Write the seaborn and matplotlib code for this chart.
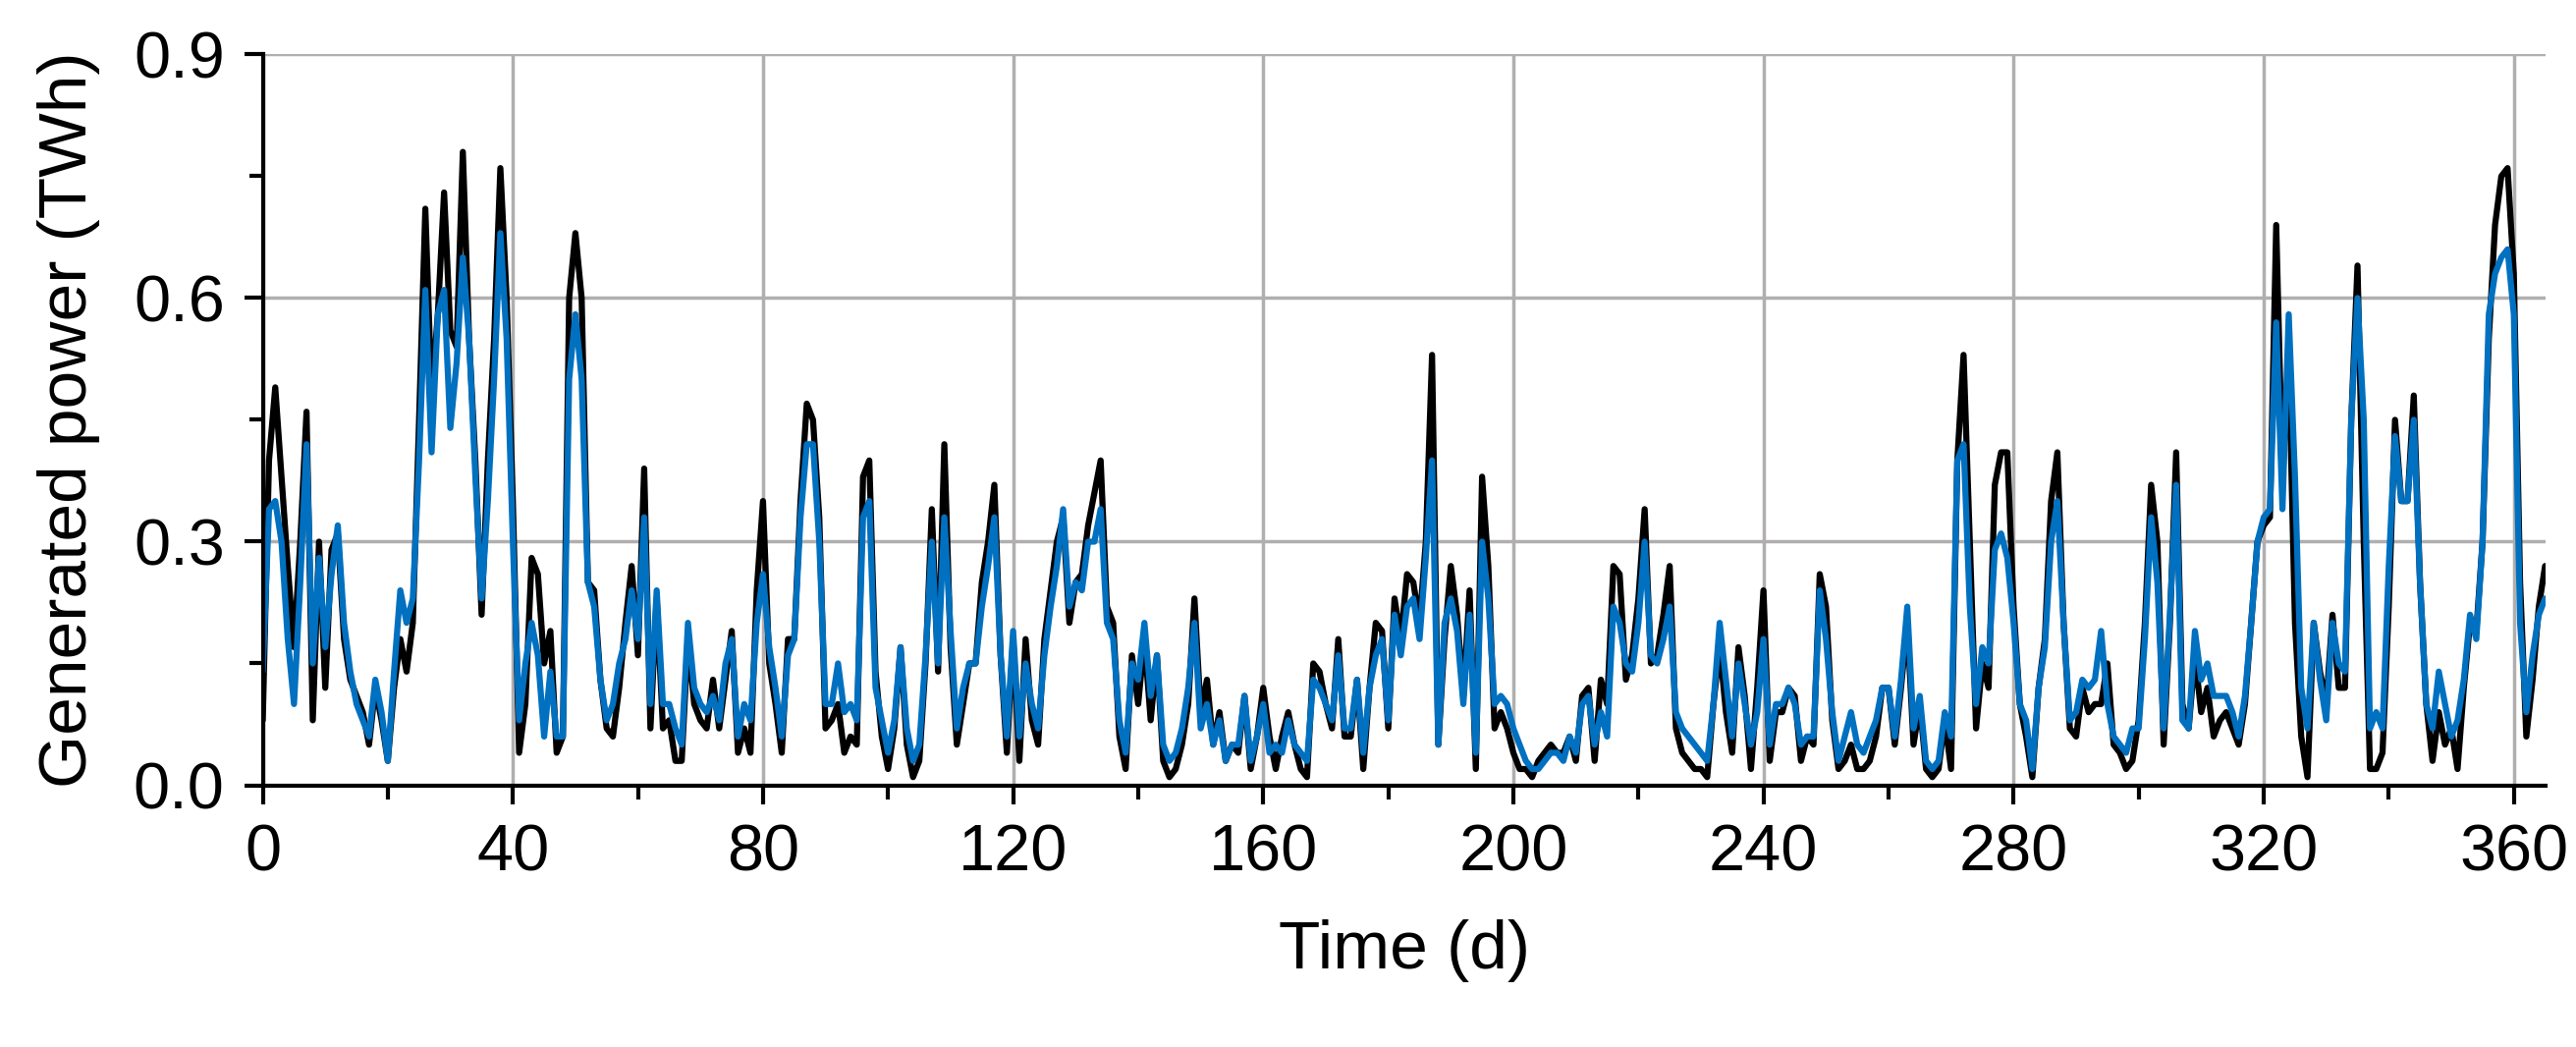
import matplotlib
matplotlib.use("Agg")
import matplotlib.pyplot as plt
import seaborn as sns
import numpy as np
import pandas as pd
from matplotlib.ticker import MultipleLocator

black_vals = [
0.08,0.40,0.49,0.38,0.27,0.17,0.30,0.46,0.08,0.30,
0.12,0.29,0.31,0.18,0.13,0.11,0.09,0.05,0.12,0.08,
0.03,0.12,0.18,0.14,0.20,0.45,0.71,0.48,0.58,0.73,
0.56,0.54,0.78,0.55,0.40,0.21,0.40,0.55,0.76,0.60,
0.35,0.04,0.10,0.28,0.26,0.15,0.19,0.04,0.06,0.60,
0.68,0.60,0.25,0.24,0.13,0.07,0.06,0.12,0.20,0.27,
0.16,0.39,0.07,0.23,0.07,0.08,0.03,0.03,0.18,0.10,
0.08,0.07,0.13,0.07,0.13,0.19,0.04,0.07,0.04,0.24,
0.35,0.15,0.10,0.04,0.18,0.18,0.35,0.47,0.45,0.33,
0.07,0.08,0.10,0.04,0.06,0.05,0.38,0.40,0.14,0.06,
0.02,0.07,0.17,0.05,0.01,0.03,0.15,0.34,0.14,0.42,
0.17,0.05,0.10,0.15,0.15,0.25,0.30,0.37,0.16,0.04,
0.18,0.03,0.18,0.08,0.05,0.18,0.24,0.30,0.33,0.20,
0.25,0.26,0.32,0.36,0.40,0.22,0.20,0.06,0.02,0.16,
0.10,0.18,0.08,0.16,0.03,0.01,0.02,0.05,0.10,0.23,
0.09,0.13,0.05,0.09,0.03,0.05,0.04,0.11,0.02,0.06,
0.12,0.06,0.02,0.06,0.09,0.05,0.02,0.01,0.15,0.14,
0.10,0.07,0.18,0.06,0.06,0.13,0.02,0.12,0.20,0.19,
0.07,0.23,0.18,0.26,0.25,0.20,0.30,0.53,0.05,0.18,
0.27,0.21,0.11,0.24,0.02,0.38,0.27,0.07,0.09,0.07,
0.04,0.02,0.02,0.01,0.03,0.04,0.05,0.04,0.04,0.06,
0.03,0.11,0.12,0.03,0.13,0.10,0.27,0.26,0.13,0.16,
0.23,0.34,0.15,0.16,0.21,0.27,0.07,0.04,0.03,0.02,
0.02,0.01,0.10,0.17,0.09,0.04,0.17,0.11,0.02,0.12,
0.24,0.03,0.09,0.09,0.12,0.11,0.03,0.06,0.05,0.26,
0.22,0.08,0.02,0.03,0.05,0.02,0.02,0.03,0.06,0.12,
0.12,0.05,0.12,0.20,0.05,0.10,0.02,0.01,0.02,0.08,
0.02,0.40,0.53,0.30,0.07,0.15,0.12,0.37,0.41,0.41,
0.22,0.10,0.06,0.01,0.12,0.18,0.35,0.41,0.20,0.07,
0.06,0.12,0.09,0.10,0.10,0.15,0.05,0.04,0.02,0.03,
0.08,0.20,0.37,0.30,0.05,0.20,0.41,0.10,0.07,0.16,
0.09,0.12,0.06,0.08,0.09,0.07,0.05,0.10,0.20,0.30,
0.32,0.33,0.69,0.38,0.53,0.20,0.06,0.01,0.20,0.14,
0.10,0.21,0.12,0.12,0.45,0.64,0.30,0.02,0.02,0.04,
0.22,0.45,0.35,0.35,0.48,0.25,0.10,0.03,0.09,0.05,
0.07,0.02,0.12,0.20,0.19,0.30,0.55,0.69,0.75,0.76,
0.63,0.25,0.06,0.13,0.22,0.27]

blue_vals = [
0.14,0.34,0.35,0.30,0.18,0.10,0.25,0.42,0.15,0.28,
0.17,0.26,0.32,0.20,0.14,0.10,0.08,0.06,0.13,0.09,
0.03,0.14,0.24,0.20,0.23,0.40,0.61,0.41,0.58,0.61,
0.44,0.52,0.65,0.55,0.38,0.23,0.35,0.50,0.68,0.55,
0.30,0.08,0.15,0.20,0.16,0.06,0.14,0.06,0.06,0.50,
0.58,0.50,0.25,0.22,0.13,0.08,0.10,0.15,0.18,0.24,
0.18,0.33,0.10,0.24,0.10,0.10,0.07,0.05,0.20,0.12,
0.10,0.09,0.11,0.08,0.15,0.18,0.06,0.10,0.08,0.20,
0.26,0.17,0.12,0.06,0.16,0.18,0.33,0.42,0.42,0.30,
0.10,0.10,0.15,0.09,0.10,0.08,0.33,0.35,0.12,0.08,
0.04,0.08,0.17,0.07,0.03,0.05,0.16,0.30,0.15,0.33,
0.19,0.07,0.12,0.15,0.15,0.22,0.27,0.33,0.16,0.06,
0.19,0.06,0.15,0.10,0.07,0.16,0.22,0.27,0.34,0.22,
0.25,0.24,0.30,0.30,0.34,0.20,0.18,0.08,0.04,0.15,
0.13,0.20,0.11,0.16,0.05,0.03,0.04,0.07,0.12,0.20,
0.07,0.10,0.05,0.08,0.03,0.05,0.05,0.11,0.03,0.06,
0.10,0.04,0.05,0.04,0.08,0.05,0.04,0.03,0.13,0.12,
0.10,0.08,0.16,0.07,0.07,0.13,0.04,0.12,0.16,0.18,
0.08,0.21,0.16,0.22,0.23,0.18,0.28,0.40,0.05,0.20,
0.23,0.19,0.10,0.21,0.04,0.30,0.23,0.10,0.11,0.10,
0.07,0.05,0.03,0.02,0.02,0.03,0.04,0.04,0.03,0.06,
0.04,0.10,0.11,0.05,0.09,0.06,0.22,0.20,0.15,0.14,
0.20,0.30,0.16,0.15,0.18,0.22,0.09,0.07,0.06,0.05,
0.04,0.03,0.10,0.20,0.13,0.06,0.15,0.10,0.05,0.09,
0.18,0.05,0.10,0.10,0.12,0.10,0.05,0.06,0.06,0.24,
0.18,0.09,0.03,0.06,0.09,0.05,0.04,0.06,0.08,0.12,
0.12,0.06,0.13,0.22,0.07,0.11,0.03,0.02,0.03,0.09,
0.06,0.40,0.42,0.22,0.10,0.17,0.15,0.29,0.31,0.28,
0.20,0.10,0.08,0.02,0.12,0.17,0.30,0.35,0.20,0.08,
0.09,0.13,0.12,0.13,0.19,0.10,0.06,0.05,0.04,0.07,
0.07,0.18,0.33,0.25,0.07,0.21,0.37,0.08,0.07,0.19,
0.13,0.15,0.11,0.11,0.11,0.09,0.06,0.11,0.20,0.30,
0.33,0.34,0.57,0.34,0.58,0.38,0.12,0.07,0.20,0.13,
0.08,0.20,0.15,0.14,0.45,0.60,0.45,0.07,0.09,0.07,
0.27,0.43,0.35,0.35,0.45,0.25,0.10,0.07,0.14,0.10,
0.06,0.08,0.13,0.21,0.18,0.30,0.58,0.63,0.65,0.66,
0.58,0.20,0.09,0.16,0.21,0.23]

days = list(range(len(black_vals)))
df = pd.DataFrame({"day": days, "black": black_vals, "blue": blue_vals[:len(days)]})

sns.set_theme(style="white")
plt.rcParams['font.family'] = ['Liberation Sans', 'DejaVu Sans']
plt.rcParams['text.color'] = 'black'
plt.rcParams['axes.labelcolor'] = 'black'
plt.rcParams['xtick.color'] = 'black'
plt.rcParams['ytick.color'] = 'black'

fig = plt.figure(figsize=(26.23, 10.66), dpi=100)
ax = fig.add_axes([0.102, 0.25, 0.886, 0.698])
sns.lineplot(data=df, x="day", y="black", ax=ax, color="black", lw=4.5)
sns.lineplot(data=df, x="day", y="blue", ax=ax, color="#0070c0", lw=4.5)

ax.set_xlim(0, 365)
ax.set_ylim(0, 0.9)
ax.xaxis.set_major_locator(MultipleLocator(40))
ax.xaxis.set_minor_locator(MultipleLocator(20))
ax.yaxis.set_major_locator(MultipleLocator(0.3))
ax.yaxis.set_minor_locator(MultipleLocator(0.15))
ax.yaxis.set_major_formatter(matplotlib.ticker.FormatStrFormatter('%.1f'))
ax.grid(True, which="major", color="#b0aeae", lw=2.5)
ax.set_axisbelow(True)
for s in ["top", "right"]:
    ax.spines[s].set_visible(False)
for s in ["left", "bottom"]:
    ax.spines[s].set_color("black")
    ax.spines[s].set_linewidth(3)
ax.tick_params(which="major", direction="out", length=14, width=3,
               bottom=True, left=True, labelsize=48, pad=14)
ax.tick_params(which="minor", direction="out", length=10, width=3, bottom=True, left=True)
ax.set_xlabel("Time (d)", fontsize=50, labelpad=26)
ax.set_ylabel("Generated power (TWh)", fontsize=50, labelpad=24)
fig.savefig("out.png", dpi=100)
